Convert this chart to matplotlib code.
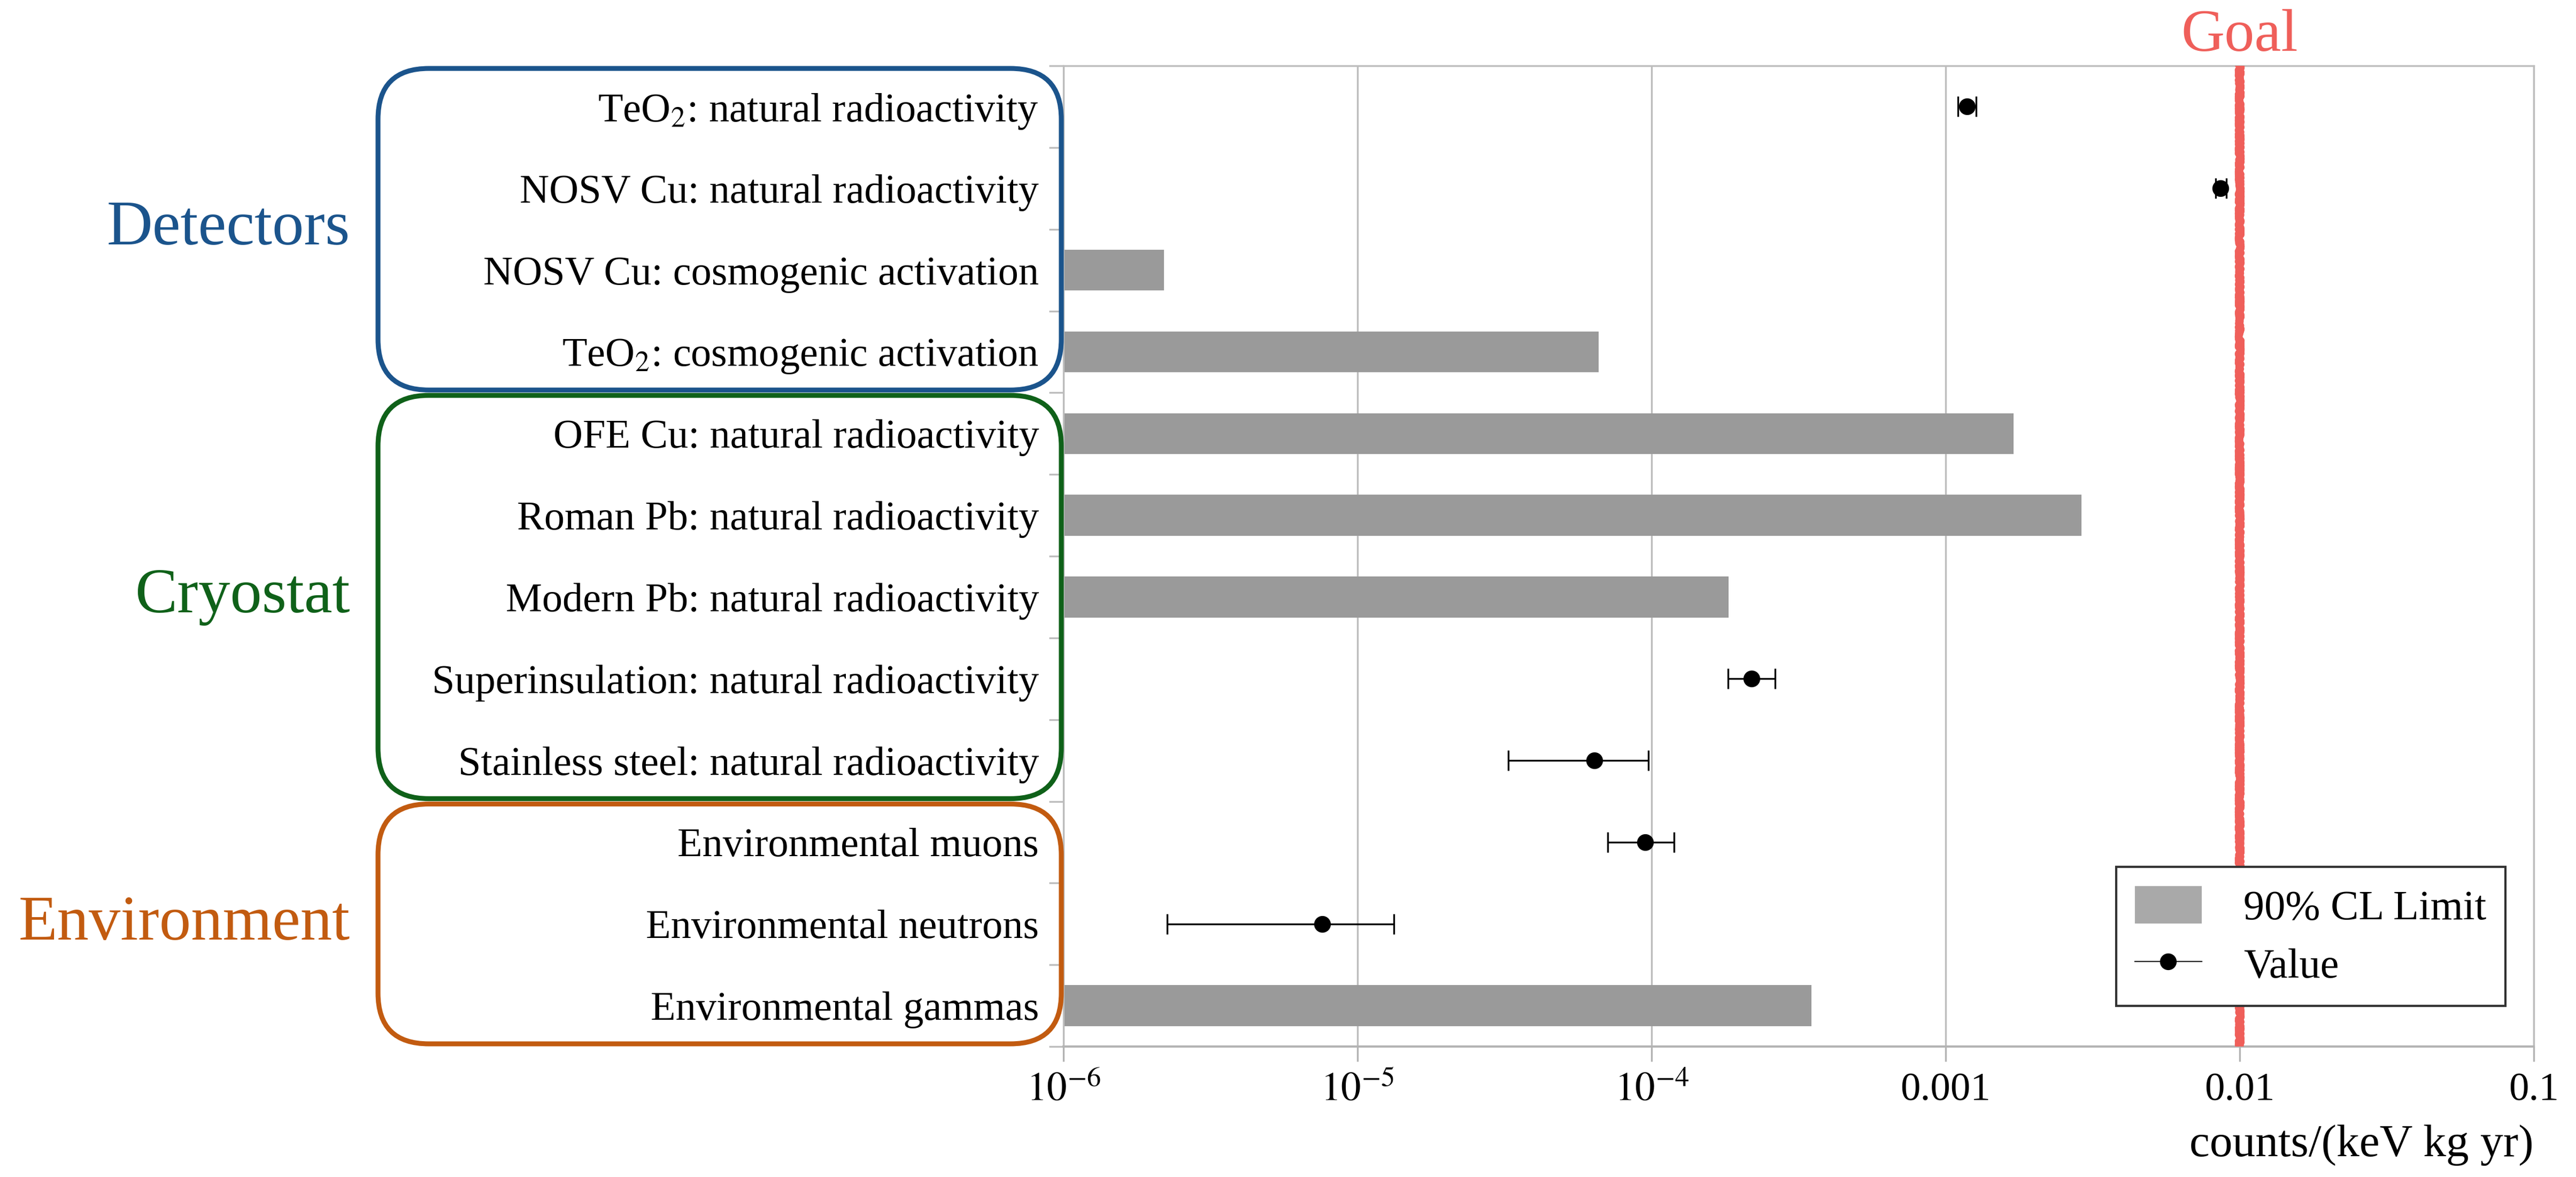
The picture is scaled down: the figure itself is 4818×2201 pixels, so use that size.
import numpy as np
import matplotlib
matplotlib.use("Agg")
import matplotlib.pyplot as plt
from matplotlib.patches import FancyBboxPatch, Patch
from matplotlib.lines import Line2D

plt.rcParams['font.family'] = ['Liberation Serif', 'DejaVu Serif']
plt.rcParams['mathtext.fontset'] = 'stix'

# background sources, top to bottom
sources = [
    r'TeO$_2$: natural radioactivity',
    'NOSV Cu: natural radioactivity',
    'NOSV Cu: cosmogenic activation',
    r'TeO$_2$: cosmogenic activation',
    'OFE Cu: natural radioactivity',
    'Roman Pb: natural radioactivity',
    'Modern Pb: natural radioactivity',
    'Superinsulation: natural radioactivity',
    'Stainless steel: natural radioactivity',
    'Environmental muons',
    'Environmental neutrons',
    'Environmental gammas',
]
nan = np.nan
# 90% CL upper limits, counts/(keV kg yr)
limits = [nan, nan, 2.2e-6, 6.6e-5, 1.7e-3, 2.9e-3, 1.83e-4, nan, nan, nan, nan, 3.5e-4]
# measured contributions with lower/upper error bar ends
values = [1.18e-3, 8.6e-3, nan, nan, nan, nan, nan, 2.19e-4, 6.4e-5, 9.5e-5, 7.6e-6, nan]
err_low = [1.10e-3, 8.3e-3, nan, nan, nan, nan, nan, 1.82e-4, 3.26e-5, 7.1e-5, 2.25e-6, nan]
err_high = [1.27e-3, 9.0e-3, nan, nan, nan, nan, nan, 2.63e-4, 9.75e-5, 1.19e-4, 1.33e-5, nan]

groups = ['Detectors', 'Cryostat', 'Environment']
group_rows = [4, 5, 3]
group_colors = ['#1b548c', '#0f6119', '#c25b10']

goal = 0.01
xticks = [1e-6, 1e-5, 1e-4, 1e-3, 1e-2, 1e-1]
xticklabels = [r'$10^{-6}$', r'$10^{-5}$', r'$10^{-4}$', '0.001', '0.01', '0.1']

W, H, DPI = 4818, 2201, 300
fig = plt.figure(figsize=(W / DPI, H / DPI), dpi=DPI)
ax = fig.add_axes([1989 / W, 1 - 1957 / H, 2750 / W, 1834 / H])

pos = np.arange(len(sources))
xmin, xmax = 1e-6, 1e-1
lim = np.array(limits)
val = np.array(values)

ax.set_xscale('log')
ax.set_xlim(xmin, xmax)
ax.set_ylim(len(sources) - 0.5, -0.5)

has_lim = ~np.isnan(lim)
ax.barh(pos[has_lim], lim[has_lim] - xmin, left=xmin, height=0.5,
        color='#9a9a9a', zorder=2)

has_val = ~np.isnan(val)
xerr = np.vstack([val - np.array(err_low), np.array(err_high) - val])[:, has_val]
ax.errorbar(val[has_val], pos[has_val], xerr=xerr, fmt='o', color='black',
            ms=6.5, elinewidth=0.8, capsize=4.5, capthick=0.8, zorder=4)

goal_line = ax.axvline(goal, color='#ef5f5a', lw=3.4, zorder=3)
goal_line.set_sketch_params(scale=2.2, length=6, randomness=8)
ax.text(goal, 1.03, 'Goal', transform=ax.get_xaxis_transform(),
        ha='center', va='center', fontsize=27, color='#ef5f5a')

# grid, spines, ticks
ax.set_xticks(xticks)
ax.set_xticklabels(xticklabels)
ax.minorticks_off()
ax.xaxis.grid(True, color='#bdbdbd', lw=0.8, zorder=0)
ax.set_axisbelow(True)
for side in ['top', 'right', 'left']:
    ax.spines[side].set_color('#bdbdbd')
    ax.spines[side].set_linewidth(0.8)
ax.spines['bottom'].set_color('#b3b3b3')
ax.spines['bottom'].set_linewidth(1.0)
ax.tick_params(axis='x', length=6.7, width=0.8, color='#b3b3b3',
               labelsize=18, pad=5)

# category boundaries as major ticks, labels on minor ticks at centers
ax.set_yticks(np.arange(-0.5, len(sources), 1.0))
ax.set_yticklabels([])
ax.set_yticks(pos, minor=True)
ax.set_yticklabels(sources, minor=True)
ax.tick_params(axis='y', which='major', length=6.5, width=0.8, color='#bdbdbd')
ax.tick_params(axis='y', which='minor', length=0, labelsize=18.3, pad=11)

ax.set_xlabel('counts/(keV kg yr)', fontsize=20.5, loc='right', labelpad=7)

leg_handles = [
    Patch(facecolor='#a9a9a9', edgecolor='none'),
    Line2D([], [], color='black', lw=0.5, marker='o', ms=6.5),
]
ax.legend(leg_handles, ['90% CL Limit', 'Value'], loc='lower right',
          bbox_to_anchor=(0.9807, 0.0414), borderaxespad=0, fontsize=18.8,
          fancybox=False, framealpha=1, edgecolor='#333333',
          handlelength=1.6, handleheight=1.0, handletextpad=1.0,
          labelspacing=0.4, borderpad=0.45)

# rounded group boxes around the row labels, plus the group names
start = 0
box_left = 707
for name, n, col in zip(groups, group_rows, group_colors):
    top_row, bot_row = start - 0.5, start + n - 0.5
    y_top = ax.transData.transform((xmin, top_row))[1]
    y_bot = ax.transData.transform((xmin, bot_row))[1]
    x_right = ax.transData.transform((xmin, 0))[0] - 4
    inset = 5
    box = FancyBboxPatch((box_left, y_bot + inset),
                         x_right - box_left, (y_top - y_bot) - 2 * inset,
                         boxstyle='round,pad=0,rounding_size=95',
                         transform=None, fill=False, edgecolor=col, lw=2.2)
    fig.patches.append(box)
    y_mid = 0.5 * (y_top + y_bot)
    fig.text(655 / W, y_mid / H, name, ha='right', va='center',
             fontsize=28.5, color=col)
    start += n

fig.savefig('out.png', dpi=DPI)
